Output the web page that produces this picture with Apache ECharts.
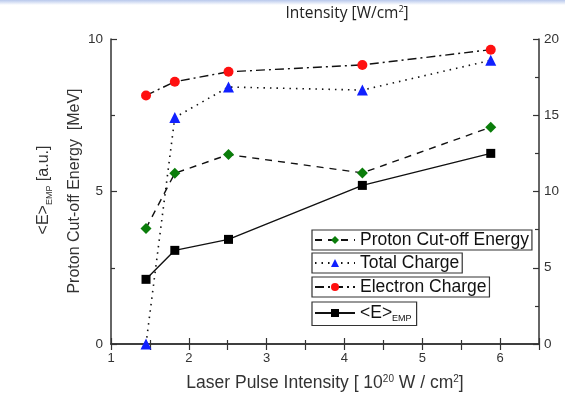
<!DOCTYPE html>
<html><head><meta charset="utf-8">
<script src="https://cdn.jsdelivr.net/npm/echarts@6/dist/echarts.min.js"></script>
<style>html,body{margin:0;padding:0;background:#fff}#c{width:565px;height:406px}</style>
</head><body><div id="c"></div>
<script>
const intensity = [1.45, 1.82, 2.51, 4.23, 5.88];
const protonEnergy = [3.79, 5.6, 6.21, 5.61, 7.11];
const totalCharge = [0, 14.85, 16.85, 16.65, 18.6];
const electronCharge = [16.3, 17.2, 17.85, 18.3, 19.3];
const eEmp = [2.12, 3.07, 3.43, 5.2, 6.25];
const leftTicks = [0, 5, 10];
const rightTicks = [0, 5, 10, 15, 20];
const xTicks = [1, 2, 3, 4, 5, 6];

const pair = (xs, ys) => xs.map((x, i) => [x, ys[i]]);
const FONT = '"Liberation Sans", Arial, sans-serif';
const chart = echarts.init(document.getElementById('c'));

const names = ['Proton Cut-off Energy', 'Total Charge', 'Electron Charge', '<E>EMP'];
const legendTops = [230, 253, 277, 302];
const axisLine = {show: true, lineStyle: {color: '#333', width: 1.5}};
const tick = {show: true, inside: true, length: 6, lineStyle: {color: '#333', width: 1.2}};
const minor = {show: true, splitNumber: 2, length: 4, lineStyle: {color: '#333', width: 1.2}};

chart.setOption({
  animation: false,
  backgroundColor: '#fff',
  grid: {left: 111, right: 26, top: 39, bottom: 62},
  xAxis: [{
    type: 'value', min: 1, max: 6.5, interval: 1, position: 'bottom',
    axisLine, axisTick: tick, minorTick: minor, splitLine: {show: false},
    axisLabel: {color: '#333', fontFamily: FONT, fontSize: 13, margin: 8, showMaxLabel: false,
      formatter: v => xTicks.includes(v) ? String(v) : ''},
    name: 'Laser Pulse Intensity [ 10{sup|20} W / cm{sup|2}]',
    nameLocation: 'middle', nameGap: 30,
    nameTextStyle: {color: '#333', fontFamily: FONT, fontSize: 17.5,
      rich: {sup: {fontSize: 10, verticalAlign: 'top', padding: [0, 0, 9, 0], fontFamily: FONT, color: '#333'}}}
  }, {
    type: 'value', min: 1, max: 6.5, interval: 0.5, position: 'top',
    axisLine, axisTick: tick, splitLine: {show: false}, axisLabel: {show: false}
  }],
  yAxis: [{
    type: 'value', min: 0, max: 10, interval: 5, position: 'left',
    axisLine, axisTick: tick, minorTick: minor, splitLine: {show: false},
    axisLabel: {color: '#333', fontFamily: FONT, fontSize: 13.5, margin: 8,
      formatter: v => leftTicks.includes(v) ? String(v) : ''}
  }, {
    type: 'value', min: 0, max: 20, interval: 5, position: 'right',
    axisLine, axisTick: tick, minorTick: minor, splitLine: {show: false},
    axisLabel: {color: '#333', fontFamily: FONT, fontSize: 13.5, margin: 5,
      formatter: v => rightTicks.includes(v) ? String(v) : ''}
  }],
  legend: names.map((n, i) => ({
    data: [n], left: 312, top: legendTops[i], orient: 'vertical',
    borderColor: '#333', borderWidth: 1.2, borderRadius: 0,
    padding: i === 3 ? [2, 5, 2, 2] : [1, 3, 1, 2],
    itemWidth: 40, itemHeight: 10, itemGap: 0,
    textStyle: {color: '#111', fontFamily: FONT, fontSize: 17.5,
      rich: {sub: {fontSize: 9, fontFamily: FONT, color: '#111', verticalAlign: 'bottom', padding: [12, 0, 0, 0]}}},
    formatter: name => name === '<E>EMP' ? '<E>{sub|EMP}' : name
  })),
  series: [{
    name: names[0], type: 'line', xAxisIndex: 0, yAxisIndex: 0,
    data: pair(intensity, protonEnergy),
    symbol: 'diamond', symbolSize: 11,
    itemStyle: {color: '#0a7d0a'},
    lineStyle: {color: '#111', width: 1.4, type: [7, 6]}
  }, {
    name: names[1], type: 'line', xAxisIndex: 0, yAxisIndex: 1,
    data: pair(intensity, totalCharge),
    symbol: 'triangle', symbolSize: 11,
    itemStyle: {color: '#1020ff'},
    lineStyle: {color: '#111', width: 1.6, type: [1.5, 5]}
  }, {
    name: names[2], type: 'line', xAxisIndex: 0, yAxisIndex: 1,
    data: pair(intensity, electronCharge),
    symbol: 'circle', symbolSize: 10,
    itemStyle: {color: '#ff1010'},
    lineStyle: {color: '#111', width: 1.4, type: [9, 4, 2, 4]}
  }, {
    name: names[3], type: 'line', xAxisIndex: 0, yAxisIndex: 0,
    data: pair(intensity, eEmp),
    symbol: 'rect', symbolSize: 9,
    itemStyle: {color: '#000'},
    lineStyle: {color: '#111', width: 1.4, type: 'solid'}
  }],
  graphic: [{
    type: 'rect', shape: {x: 0, y: 0, width: 565, height: 5},
    style: {fill: new echarts.graphic.LinearGradient(0, 0, 0, 1, [{offset: 0, color: '#b8c8ec'}, {offset: 1, color: '#ffffff'}])},
    silent: true
  }, {
    type: 'text', x: 347, y: 14,
    style: {text: 'Intensity [W/cm{sup|2}]', align: 'center', verticalAlign: 'middle',
      font: '15.5px "Open Sans", sans-serif', fill: '#222',
      rich: {sup: {fontSize: 9, fontFamily: '"Open Sans", sans-serif', fill: '#222', verticalAlign: 'top', padding: [0, 0, 10, 0]}}}
  }, {
    type: 'text', x: 75, y: 191, rotation: Math.PI / 2,
    style: {text: 'Proton Cut-off Energy  [MeV]', align: 'center', verticalAlign: 'middle',
      font: '16px "Liberation Sans", Arial, sans-serif', fill: '#333'}
  }, {
    type: 'text', x: 44, y: 190, rotation: Math.PI / 2,
    style: {text: '<E>{sub|EMP} [a.u.]', align: 'center', verticalAlign: 'middle',
      font: '16px "Liberation Sans", Arial, sans-serif', fill: '#333',
      rich: {sub: {fontSize: 9, fontFamily: FONT, fill: '#333', verticalAlign: 'bottom', padding: [12, 0, 0, 0]}}}
  }]
});
</script></body></html>
